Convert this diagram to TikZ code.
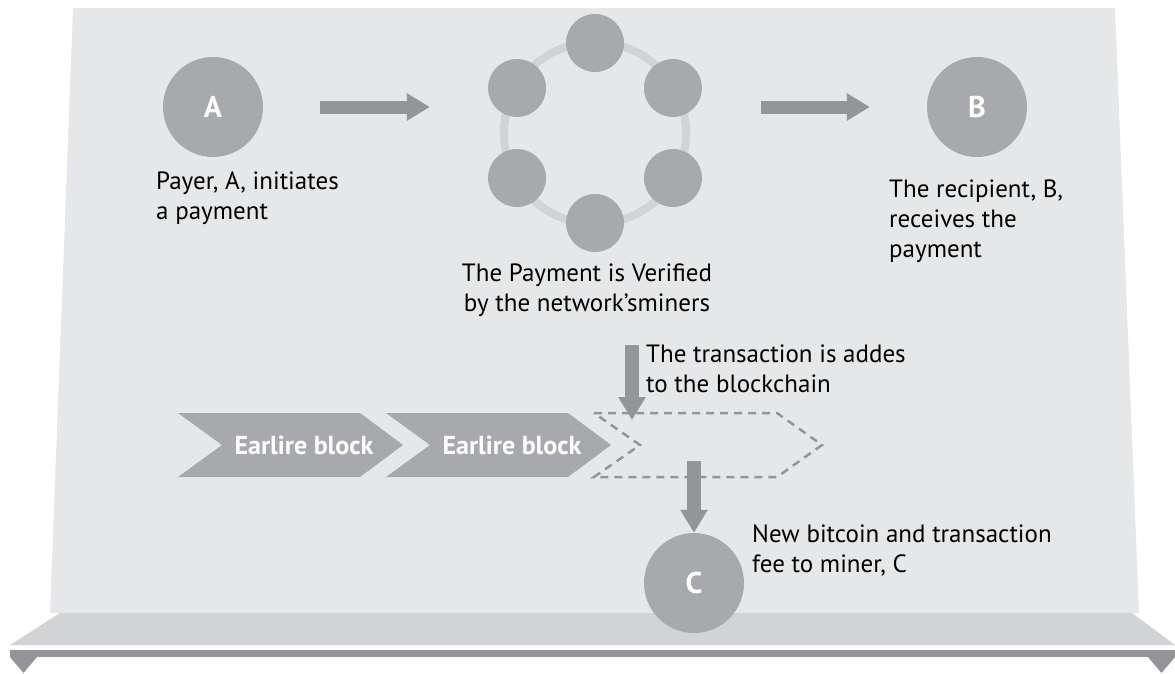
\documentclass[tikz,border=0pt]{standalone}
\usepackage{fontspec}
\setmainfont{PT Sans}
\usetikzlibrary{arrows.meta}
\definecolor{boardgray}{HTML}{E6E7E8}
\definecolor{shelfgray}{HTML}{D1D3D4}
\definecolor{bargray}{HTML}{939598}
\definecolor{dotgray}{HTML}{A7A9AC}
\tikzset{
  peer/.style={circle, fill=dotgray, minimum size=100pt, inner sep=0pt, text=white, font=\bfseries\fontsize{30}{30}\selectfont},
  miner/.style={circle, fill=dotgray, minimum size=58pt, inner sep=0pt},
  bigarrow/.style={draw=bargray, line width=14pt, -{Triangle[length=23pt,width=26pt]}},
  note/.style={inner sep=0pt, align=left, font=\fontsize{25}{30}\selectfont},
  blocklabel/.style={text=white, font=\bfseries\fontsize{26}{26}\selectfont}
}

\begin{document}
\begin{tikzpicture}[x=1pt, y=-1pt]
  \useasboundingbox (0,0) rectangle (1175,673);
  % board and shelf
  \fill[boardgray] (73,8) -- (1115,8) -- (1139,613) -- (50,613) -- cycle;
  \fill[shelfgray] (60,613) -- (1132,613) -- (1175,645) -- (10,645) -- cycle;
  \fill[bargray] (10,650) rectangle (1175,657);
  \fill[bargray] (10,657) -- (37,657) -- (23.5,673) -- cycle;
  \fill[bargray] (1148,657) -- (1175,657) -- (1161.5,673) -- cycle;

  % network of miners
  \draw[shelfgray, line width=8pt] (595,133) circle[radius=91];
  \node[circle, minimum size=182pt, inner sep=0pt] (ring) at (595,133) {};
  \foreach \a [count=\i] in {90,30,-30,-90,-150,150}
    \node[miner] (m\i) at ([shift={(\a:90)}]595,133) {};

  % payer and recipient
  \node[peer] (A) at (213,107) {A};
  \node[peer] (B) at (977,107) {B};
  \draw[bigarrow, line width=13pt, shorten <=57pt, shorten >=74pt] (A.east) -- (A.east -| ring.west);
  \draw[bigarrow, line width=13pt, shorten <=75pt, shorten >=57pt] (B.west -| ring.east) -- (B.west);

  \node[note, anchor=north west] (payer) at (156,172) {Payer, A, initiates\\a payment};
  \node[note, anchor=north, align=center] (verify) at (587,264) {The Payment is Verified\\by the network'sminers};
  \node[note, anchor=north west] (recip) at (889,180) {The recipient, B,\\receives the\\payment};

  % blockchain
  \fill[dotgray] (178,413) -- ++(182,0) -- ++(43,32) -- ++(-43,32) -- ++(-182,0) -- ++(44,-32) -- cycle;
  \fill[dotgray] (386,413) -- ++(182,0) -- ++(43,32) -- ++(-43,32) -- ++(-182,0) -- ++(44,-32) -- cycle;
  \draw[bargray, line width=2.5pt, dash pattern=on 8pt off 6pt] (594,413) -- ++(183,0) -- ++(45,32) -- ++(-45,32) -- ++(-183,0) -- ++(46,-32) -- cycle;
  \node[blocklabel] (b1) at (304,445) {Earlire block};
  \node[blocklabel] (b2) at (512,445) {Earlire block};

  \coordinate (drop) at (632,345);
  \coordinate (slot) at (632,420);
  \draw[bigarrow] (drop) -- (slot);
  \node[note, anchor=north west] (added) at (646,345) {The transaction is addes\\to the blockchain};

  % reward
  \node[peer] (C) at (694,583) {C};
  \coordinate (mint) at (694,461);
  \draw[bigarrow] (mint) -- (C);
  \node[note, anchor=north west] (reward) at (752,525) {New bitcoin and transaction\\fee to miner, C};
\end{tikzpicture}
\end{document}
